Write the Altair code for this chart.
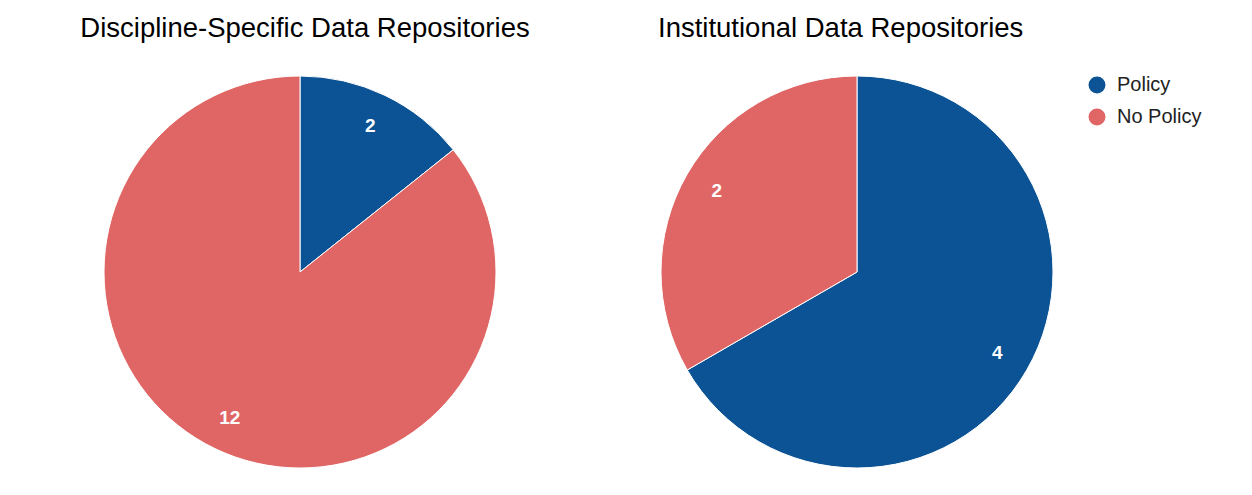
import altair as alt
import pandas as pd

categories = ["Policy", "No Policy"]
discipline_counts = [2, 12]
institutional_counts = [4, 2]
titles = ["Discipline-Specific Data Repositories", "Institutional Data Repositories"]
colors = ["#0b5394", "#e06666"]

FONT = "Liberation Sans"

def pie(counts, title, width, height, anchor, dx):
    df = pd.DataFrame({"category": categories, "count": counts, "order": [0, 1]})
    base = alt.Chart(df).encode(
        theta=alt.Theta("count:Q", stack=True),
        order=alt.Order("order:Q"),
    )
    arc = base.mark_arc(radius=196, stroke="white", strokeWidth=1).encode(
        color=alt.Color(
            "category:N",
            scale=alt.Scale(domain=categories, range=colors),
            sort=categories,
            legend=alt.Legend(
                title=None,
                symbolType="circle",
                symbolSize=340,
                labelFontSize=20,
                labelFont=FONT,
                labelColor="#222222",
                labelOffset=10,
                rowPadding=6,
                offset=27,
                padding=3,
            ),
        )
    )
    text = base.mark_text(radius=162, fontSize=19, font=FONT, fontWeight="bold",
                          color="white").encode(text="count:Q")
    return (arc + text).properties(
        width=width,
        height=height,
        title=alt.TitleParams(title, fontSize=27.5, font=FONT, fontWeight="normal",
                              color="#000000", anchor=anchor, offset=30, dx=dx),
    )

left = pie(discipline_counts, titles[0], 584, 400, "middle", 5)
right = pie(institutional_counts, titles[1], 400, 400, "start", 1)

chart = alt.hconcat(left, right, spacing=65).properties(
    padding={"left": 0, "top": 6, "right": 0, "bottom": 0}
).configure_view(stroke=None)

chart.save("out.html", embed_options={"renderer": "svg", "actions": False})
